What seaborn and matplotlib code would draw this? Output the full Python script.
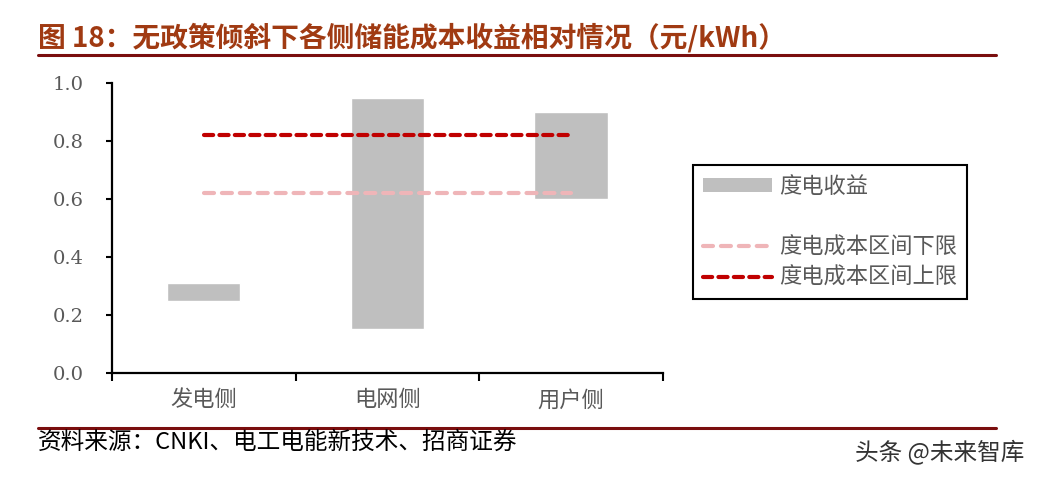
import numpy as np
import pandas as pd
import matplotlib
matplotlib.use("Agg")
import matplotlib.pyplot as plt
from matplotlib.lines import Line2D
from matplotlib.patches import Patch
import seaborn as sns

# --------------------------------------------------
# DATA
# --------------------------------------------------

categories = ["发电侧", "电网侧", "用户侧"]
revenue_low = [0.25, 0.15, 0.60]
revenue_high = [0.31, 0.95, 0.90]
cost_lower = [0.62, 0.62, 0.62]
cost_upper = [0.82, 0.82, 0.82]
yticks = [0.0, 0.2, 0.4, 0.6, 0.8, 1.0]

title = "图 18：无政策倾斜下各侧储能成本收益相对情况（元/kWh）"
source = "资料来源：CNKI、电工电能新技术、招商证券"
watermark = "头条 @未来智库"

df = pd.DataFrame({
    "cat": categories,
    "low": revenue_low,
    "height": np.array(revenue_high) - np.array(revenue_low),
})

# --------------------------------------------------
# STYLE
# --------------------------------------------------

sns.set_style("white")
plt.rcParams["font.family"] = ["Noto Sans CJK SC", "DejaVu Sans"]

BAR = "#bfbfbf"
DARK = "#c00000"
PINK = "#efb5b8"
RULE = "#7a0e0e"
TITLE = "#a03a12"
GREY_TXT = "#595959"

PINK_DASH = (0, (2.4, 1.9))
DARK_DASH = (0, (2.2, 1.5))

fig = plt.figure(figsize=(10.37, 4.79), dpi=100)
ax = fig.add_axes([0.108, 0.2213, 0.531, 0.6054])

# --------------------------------------------------
# BARS AND LINES
# --------------------------------------------------

sns.barplot(
    data=df, x="cat", y="height", bottom=df["low"],
    color=BAR, width=0.4, saturation=1, ax=ax, zorder=1
)

sns.lineplot(
    x=np.arange(len(categories)), y=cost_lower, ax=ax,
    color=PINK, linewidth=3.0, linestyle=PINK_DASH,
    dash_capstyle="round", zorder=3
)
sns.lineplot(
    x=np.arange(len(categories)), y=cost_upper, ax=ax,
    color=DARK, linewidth=3.0, linestyle=DARK_DASH,
    dash_capstyle="round", zorder=4
)

# --------------------------------------------------
# AXES
# --------------------------------------------------

ax.set_xlim(-0.5, 2.5)
ax.set_ylim(0, 1.0)
ax.set_xlabel("")
ax.set_ylabel("")

ax.set_xticks([-0.5, 0.5, 1.5, 2.5])
ax.set_xticklabels([])
ax.set_xticks(range(len(categories)), minor=True)
ax.set_xticklabels(categories, minor=True, fontsize=16, color=GREY_TXT)
ax.tick_params(axis="x", which="major", direction="out", length=6,
               width=1.5, color="black", bottom=True)
ax.tick_params(axis="x", which="minor", length=0, pad=11)

ax.set_yticks(yticks)
ax.set_yticklabels([f"{v:.1f}" for v in yticks],
                   fontfamily="DejaVu Serif", fontsize=14,
                   color=GREY_TXT)
ax.tick_params(axis="y", direction="out", length=4.5, width=1.5,
               color="black", left=True, pad=16)

for s in ["top", "right"]:
    ax.spines[s].set_visible(False)
for s in ["left", "bottom"]:
    ax.spines[s].set_linewidth(1.6)
    ax.spines[s].set_color("black")

# --------------------------------------------------
# LEGEND
# --------------------------------------------------

handles = [
    Patch(facecolor=BAR, edgecolor="none"),
    Line2D([], [], color="none"),
    Line2D([], [], color=PINK, linewidth=3.0, linestyle=PINK_DASH,
           dash_capstyle="round"),
    Line2D([], [], color=DARK, linewidth=3.0, linestyle=DARK_DASH,
           dash_capstyle="round"),
]
labels = ["度电收益", " ", "度电成本区间下限", "度电成本区间上限"]

leg = fig.legend(
    handles, labels,
    loc="upper left", bbox_to_anchor=(0.668, 0.6555),
    frameon=True, fancybox=False, framealpha=1,
    edgecolor="black", fontsize=16,
    handlelength=3.1, handleheight=0.62, handletextpad=0.35,
    labelspacing=0.33, borderpad=0.45, borderaxespad=0,
)
leg.get_frame().set_linewidth(1.5)
for t in leg.get_texts():
    t.set_color(GREY_TXT)

# --------------------------------------------------
# TITLE, RULES, SOURCE
# --------------------------------------------------

fig.text(0.037, 0.921, title, fontsize=20, fontweight="bold",
         color=TITLE, va="center", ha="left")
fig.add_artist(Line2D([0.037, 0.96], [0.885, 0.885],
                      color=RULE, linewidth=2.2))
fig.add_artist(Line2D([0.037, 0.96], [0.106, 0.106],
                      color=RULE, linewidth=2.2))
fig.text(0.037, 0.077, source, fontsize=17, color="black",
         va="center", ha="left")
fig.text(0.988, 0.056, watermark, fontsize=17, color="#333333",
         va="center", ha="right")

fig.savefig("out.png", dpi=100)
